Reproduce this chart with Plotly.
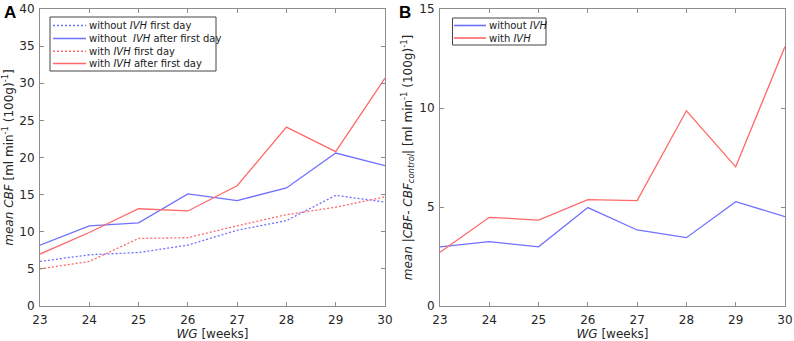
import plotly.graph_objects as go

weeks = [23, 24, 25, 26, 27, 28, 29, 30]

# Panel A: mean CBF
without_ivh_first = [6.0, 6.9, 7.2, 8.2, 10.2, 11.5, 14.9, 14.0]
without_ivh_after = [8.2, 10.8, 11.2, 15.1, 14.2, 15.9, 20.6, 18.9]
with_ivh_first = [5.0, 6.0, 9.1, 9.2, 10.8, 12.3, 13.3, 14.7]
with_ivh_after = [7.0, 9.9, 13.1, 12.8, 16.2, 24.1, 20.8, 30.7]

# Panel B: mean |CBF - CBF_control|
diff_without_ivh = [2.99, 3.25, 2.99, 4.97, 3.84, 3.45, 5.27, 4.51]
diff_with_ivh = [2.71, 4.48, 4.34, 5.37, 5.32, 9.86, 7.03, 13.1]

legend_a_labels = ["without <i>IVH</i> first day", "without  <i>IVH</i> after first day",
                   "with <i>IVH</i> first day", "with <i>IVH</i> after first day"]
legend_b_labels = ["without <i>IVH</i>", "with <i>IVH</i>"]

BLUE = "#7070ff"
RED = "#ff6868"
DOT = "2px,2px"
FONT = "DejaVu Sans"
W, H = 794, 341

def px(x):
    return x / W

def py(y):
    return 1 - y / H

fig = go.Figure()

styles_a = [(BLUE, DOT), (BLUE, "solid"), (RED, DOT), (RED, "solid")]
series_a = [without_ivh_first, without_ivh_after, with_ivh_first, with_ivh_after]
for vals, (col, dash), name in zip(series_a, styles_a, legend_a_labels):
    fig.add_trace(go.Scatter(x=weeks, y=vals, mode="lines",
                             line=dict(color=col, width=1.3, dash=dash),
                             name=name, xaxis="x", yaxis="y", showlegend=False))

styles_b = [(BLUE, "solid"), (RED, "solid")]
series_b = [diff_without_ivh, diff_with_ivh]
for vals, (col, dash), name in zip(series_b, styles_b, legend_b_labels):
    fig.add_trace(go.Scatter(x=weeks, y=vals, mode="lines",
                             line=dict(color=col, width=1.3, dash=dash),
                             name=name, xaxis="x2", yaxis="y2", showlegend=False))

axis_common = dict(
    showgrid=False, zeroline=False, showline=True, linecolor="#8c8c8c", linewidth=1,
    mirror="ticks", ticks="inside", ticklen=4, tickcolor="#8c8c8c", automargin=False,
    tickfont=dict(family=FONT, size=12, color="#262626"),
)

xtitle = dict(text="<i>WG</i> [weeks]", font=dict(family=FONT, size=12, color="#262626"), standoff=2)

shapes = []
annotations = []

def add_legend(x0, y0, x1, y1, item_y, line_x0, line_x1, text_x, styles, labels):
    shapes.append(dict(type="rect", xref="paper", yref="paper",
                       x0=px(x0), x1=px(x1), y0=py(y0), y1=py(y1),
                       line=dict(color="#444444", width=1), fillcolor="white", layer="above"))
    for yy, (col, dash), lab in zip(item_y, styles, labels):
        shapes.append(dict(type="line", xref="paper", yref="paper",
                           x0=px(line_x0), x1=px(line_x1), y0=py(yy), y1=py(yy),
                           line=dict(color=col, width=1.6, dash=dash), layer="above"))
        annotations.append(dict(text=lab, x=px(text_x), y=py(yy), xref="paper", yref="paper",
                                xanchor="left", yanchor="middle", showarrow=False,
                                font=dict(family=FONT, size=10, color="#1a1a1a")))

add_legend(50, 17, 216, 71, [25.5, 38.5, 51.2, 63.5], 53, 86, 87, styles_a, legend_a_labels)
add_legend(452.5, 18, 546, 45, [25.5, 38], 454, 486, 487, styles_b, legend_b_labels)

annotations += [
    dict(text="<b>A</b>", x=px(2), y=py(1), xref="paper", yref="paper",
         xanchor="left", yanchor="top", showarrow=False,
         font=dict(family="Liberation Sans", size=17, color="black")),
    dict(text="<b>B</b>", x=px(397), y=py(1), xref="paper", yref="paper",
         xanchor="left", yanchor="top", showarrow=False,
         font=dict(family="Liberation Sans", size=17, color="black")),
]

fig.update_layout(
    width=W, height=H,
    margin=dict(l=0, r=0, t=0, b=0),
    paper_bgcolor="white", plot_bgcolor="white",
    font=dict(family=FONT, size=11, color="#262626"),
    xaxis=dict(domain=[px(40), px(385)], range=[23, 30], dtick=1, anchor="y",
               title=xtitle, ticklabelstandoff=3, **axis_common),
    yaxis=dict(domain=[py(306), py(9)], range=[0, 40], dtick=5, anchor="x",
               title=dict(text="<i>mean CBF</i> [ml min<sup>-1</sup> (100g)<sup>-1</sup>]",
                          font=dict(family=FONT, size=12, color="#262626"), standoff=4),
               ticklabelstandoff=2, **axis_common),
    xaxis2=dict(domain=[px(440), px(785)], range=[23, 30], dtick=1, anchor="y2",
                title=xtitle, ticklabelstandoff=3, **axis_common),
    yaxis2=dict(domain=[py(306), py(9)], range=[0, 15], dtick=5, anchor="x2",
                title=dict(text="<i>mean</i> |<i>CBF</i>- <i>CBF</i><sub><i>control</i></sub>| [ml min<sup>-1</sup> (100g)<sup>-1</sup>]",
                           font=dict(family=FONT, size=12, color="#262626"), standoff=4),
                ticklabelstandoff=2, **axis_common),
    showlegend=False,
    hovermode=False,
    shapes=shapes,
    annotations=annotations,
)

fig.write_html("out.html",
               config={"displayModeBar": False, "staticPlot": True},
               post_script="document.body.style.margin='0';document.body.style.overflow='hidden';")
